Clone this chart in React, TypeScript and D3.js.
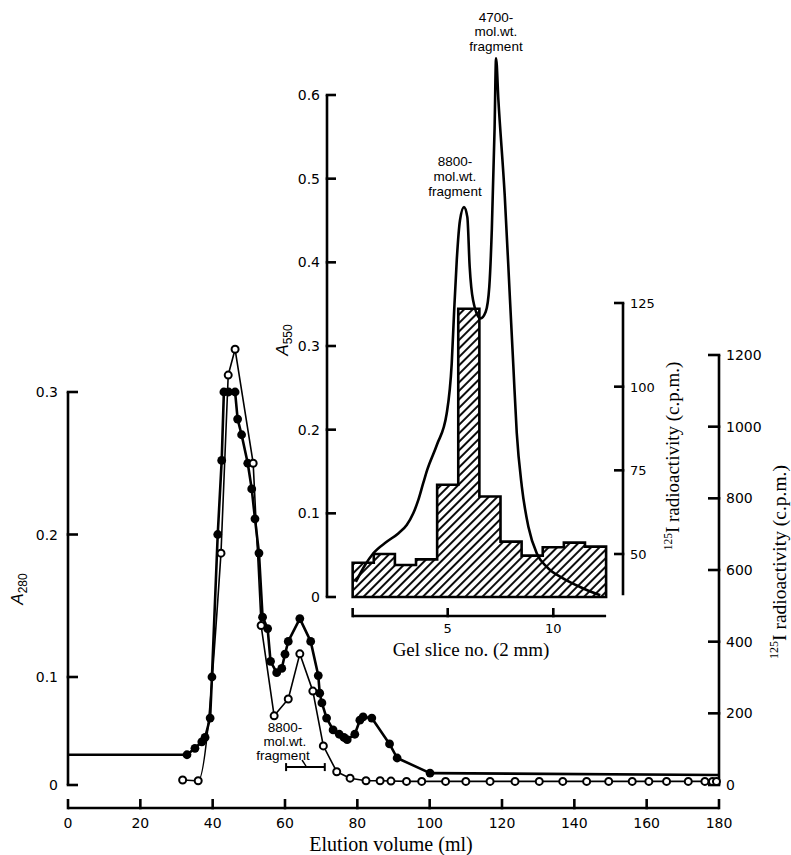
import React from 'react';
import * as d3 from 'd3';

// ---------- Main chart data ----------
const mainXTicks = [0, 20, 40, 60, 80, 100, 120, 140, 160, 180];
const a280Ticks = [0, 0.1, 0.2, 0.3];
const a280TickLabels = ['0', '0.1', '0.2', '0.3'];
const cpmTicks = [0, 200, 400, 600, 800, 1000, 1200];

// filled circles: A280
const filledMl = [32.9, 35.1, 37.0, 37.9, 39.3, 39.8, 41.4, 42.5, 43.1, 44.4, 46.2, 46.9, 48.0, 49.7, 50.8, 51.7, 52.8, 53.8, 55.2, 56.0, 57.7, 59.1, 60.0, 60.9, 64.1, 67.1, 69.2, 69.6, 70.2, 71.5, 73.3, 75.0, 76.3, 77.2, 79.3, 80.7, 81.6, 84.0, 88.9, 91.0, 100.1];
const filledA280 = [0.028, 0.034, 0.040, 0.044, 0.062, 0.100, 0.200, 0.252, 0.300, 0.300, 0.300, 0.281, 0.270, 0.250, 0.232, 0.211, 0.187, 0.142, 0.134, 0.111, 0.103, 0.106, 0.116, 0.125, 0.141, 0.125, 0.101, 0.085, 0.076, 0.062, 0.051, 0.047, 0.044, 0.042, 0.047, 0.060, 0.063, 0.062, 0.038, 0.025, 0.011];
const a280LeadIn = { ml: 0, v: 0.028 };
const a280Tail = { ml: 180, v: 0.0093 };

// open circles: 125I radioactivity
const openMl = [31.7, 36.0, 42.3, 44.3, 46.2, 51.2, 53.4, 57.0, 60.9, 64.1, 67.7, 70.6, 74.3, 78.0, 82.4, 86.3, 89.3, 93.6, 97.8, 104.4, 110.0, 116.7, 123.6, 130.3, 136.8, 143.4, 149.5, 156.0, 160.6, 165.5, 171.5, 176.1, 178.2, 179.3];
const openCpm = [14, 12, 647, 1144, 1216, 898, 445, 193, 240, 366, 262, 109, 37, 19, 12, 12, 11, 10, 10, 10, 10, 10, 10, 10, 10, 10, 10, 10, 10, 10, 10, 10, 10, 10];

const fragmentRangeMl = [60.3, 71];
const fragmentBracketCpm = 50;

// ---------- Inset data ----------
const a550Ticks = [0, 0.1, 0.2, 0.3, 0.4, 0.5, 0.6];
const a550TickLabels = ['0', '0.1', '0.2', '0.3', '0.4', '0.5', '0.6'];
const gelCpmTicks = [50, 75, 100, 125];
const gelSliceTicks = [5, 10];

const gelSlices = [1, 2, 3, 4, 5, 6, 7, 8, 9, 10, 11, 12];
const gelCpm = [47.4, 50, 46.7, 48.4, 70.7, 123.3, 67.2, 53.7, 49.5, 52, 53.4, 52.2];

const a550Slice = [0.65, 1.08, 1.47, 2.11, 2.66, 3.06, 3.37, 3.61, 3.84, 4.03, 4.49, 4.95, 5.19, 5.30, 5.43, 5.58, 5.77, 5.93, 6.04, 6.2, 6.55, 6.8, 6.97, 7.09, 7.22, 7.29, 7.40, 7.70, 7.95, 8.11, 8.27, 8.51, 8.82, 9.22, 9.69, 10.48, 11.27, 12.22];
const a550Val = [0.018, 0.038, 0.052, 0.066, 0.076, 0.086, 0.100, 0.116, 0.136, 0.152, 0.182, 0.219, 0.279, 0.339, 0.403, 0.450, 0.466, 0.454, 0.395, 0.355, 0.333, 0.341, 0.371, 0.440, 0.560, 0.644, 0.594, 0.480, 0.355, 0.275, 0.196, 0.132, 0.084, 0.052, 0.036, 0.022, 0.012, 0.002];

const TICKF = '"DejaVu Sans", sans-serif';
const ANNF = '"Liberation Sans", Arial, sans-serif';
const SERIF = '"Liberation Serif", "Times New Roman", serif';

export default function App() {
  const W = 791, H = 855;
  const x = d3.scaleLinear().domain([0, 180]).range([68, 719]);
  const yA = d3.scaleLinear().domain([0, 0.1, 0.3]).range([785, 677, 392]);
  const yC = d3.scaleLinear().domain([0, 1200]).range([785, 355]);

  const gx = d3.scaleLinear().domain([5, 10]).range([447.7, 553.3]);
  const gyA = d3.scaleLinear().domain([0, 0.6]).range([597, 95]);
  const gyC = d3.scaleLinear().domain([50, 125]).range([554, 303]);

  const filledPts: [number, number][] = filledMl.map((m, i) => [m, filledA280[i]]);
  const filledLinePts: [number, number][] = [[a280LeadIn.ml, a280LeadIn.v], ...filledPts, [a280Tail.ml, a280Tail.v]];
  const lineA = d3.line<[number, number]>().x(d => x(d[0])).y(d => yA(d[1]));

  const openPts: [number, number][] = openMl.map((m, i) => [m, openCpm[i]]);
  const lineCLin = d3.line<[number, number]>().x(d => x(d[0])).y(d => yC(d[1]));
  const lineCMono = d3.line<[number, number]>().x(d => x(d[0])).y(d => yC(d[1])).curve(d3.curveMonotoneX);

  const histPts: [number, number][] = [];
  gelSlices.forEach((s, i) => {
    histPts.push([s - 0.5, gelCpm[i]]);
    histPts.push([s + 0.5, gelCpm[i]]);
  });
  const histArea = d3.area<[number, number]>().x(d => gx(d[0])).y0(gyA(0)).y1(d => gyC(d[1]));

  const a550Pts: [number, number][] = a550Slice.map((s, i) => [s, a550Val[i]]);
  const a550Line = d3.line<[number, number]>().x(d => gx(d[0])).y(d => gyA(d[1])).curve(d3.curveMonotoneX);

  const axisW = 2.6;
  const mainXAxisY = 808;
  const insetXAxisY = 616;
  const insetLeftX = 327;
  const insetRightX = 623;

  return (
    <svg width={W} height={H} style={{ position: 'absolute', left: 0, top: 0, background: '#fff' }}>
      <defs>
        <pattern id="hatch" width={6} height={6} patternUnits="userSpaceOnUse" patternTransform="rotate(45)">
          <rect width={6} height={6} fill="#fff" />
          <line x1={1} y1={0} x2={1} y2={6} stroke="#000" strokeWidth={1.9} />
        </pattern>
      </defs>
      <rect width={W} height={H} fill="#fff" />

      {/* ---------- Main chart axes ---------- */}
      <g stroke="#000" strokeWidth={axisW} fill="none">
        <line x1={68} y1={yA(0.3)} x2={68} y2={yA(0)} />
        {a280Ticks.map(t => <line key={'la' + t} x1={66.7} y1={yA(t)} x2={78} y2={yA(t)} />)}
        <line x1={x(180)} y1={yC(1200)} x2={x(180)} y2={yC(0)} />
        {cpmTicks.map(t => <line key={'ra' + t} x1={708} y1={yC(t)} x2={x(180) + 1.3} y2={yC(t)} />)}
        <line x1={x(0)} y1={mainXAxisY} x2={x(180)} y2={mainXAxisY} />
        {mainXTicks.map(t => <line key={'xa' + t} x1={x(t)} y1={mainXAxisY + 1.3} x2={x(t)} y2={mainXAxisY - 9} />)}
      </g>
      <g fontFamily={TICKF} fontSize={14} fill="#000">
        {a280Ticks.map((t, i) => <text key={'lt' + t} x={58} y={yA(t) + 5} textAnchor="end">{a280TickLabels[i]}</text>)}
        {cpmTicks.map(t => <text key={'rt' + t} x={726} y={yC(t) + 5}>{t}</text>)}
        {mainXTicks.map(t => <text key={'xt' + t} x={x(t)} y={827.5} textAnchor="middle">{t}</text>)}
      </g>
      <text x={391} y={851} fontFamily={SERIF} fontSize={20} textAnchor="middle">Elution volume (ml)</text>
      <text transform="translate(23,589) rotate(-90)" fontFamily={ANNF} fontSize={17} textAnchor="middle">
        <tspan fontStyle="italic">A</tspan><tspan fontSize={12} dy={4}>280</tspan>
      </text>
      <text transform="translate(786,562) rotate(-90)" fontFamily={SERIF} fontSize={19.5} textAnchor="middle">
        <tspan fontSize={12} dy={-8}>125</tspan><tspan dy={8}>I radioactivity (c.p.m.)</tspan>
      </text>

      {/* ---------- Main chart data ---------- */}
      <path d={lineA(filledLinePts) || ''} fill="none" stroke="#000" strokeWidth={2.6} strokeLinejoin="round" />
      <path d={lineCMono(openPts.slice(0, 3)) || ''} fill="none" stroke="#000" strokeWidth={1.6} />
      <path d={lineCLin(openPts.slice(2)) || ''} fill="none" stroke="#000" strokeWidth={1.6} strokeLinejoin="round" />
      {filledPts.map((d, i) => <circle key={'f' + i} cx={x(d[0])} cy={yA(d[1])} r={4.4} fill="#000" />)}
      {openPts.map((d, i) => <circle key={'o' + i} cx={x(d[0])} cy={yC(d[1])} r={3.5} fill="#fff" stroke="#000" strokeWidth={2} />)}

      {/* fragment bracket */}
      <g stroke="#000" strokeWidth={2}>
        <line x1={x(fragmentRangeMl[0])} y1={yC(fragmentBracketCpm)} x2={x(fragmentRangeMl[1])} y2={yC(fragmentBracketCpm)} />
        <line x1={x(fragmentRangeMl[0])} y1={yC(fragmentBracketCpm) - 4} x2={x(fragmentRangeMl[0])} y2={yC(fragmentBracketCpm) + 4} />
        <line x1={x(fragmentRangeMl[1])} y1={yC(fragmentBracketCpm) - 4} x2={x(fragmentRangeMl[1])} y2={yC(fragmentBracketCpm) + 4} />
        <line x1={302} y1={760} x2={306} y2={yC(fragmentBracketCpm) - 1} strokeWidth={1.4} />
      </g>
      <g fontFamily={ANNF} fontSize={13.5} textAnchor="middle" fill="#000">
        <text x={285} y={732}>8800-</text>
        <text x={285} y={746}>mol.wt.</text>
        <text x={283} y={760}>fragment</text>
      </g>

      {/* ---------- Inset ---------- */}
      <path d={histArea(histPts) || ''} fill="url(#hatch)" stroke="#000" strokeWidth={2.6} strokeLinejoin="miter" />
      <path d={a550Line(a550Pts) || ''} fill="none" stroke="#000" strokeWidth={2.6} strokeLinejoin="round" />

      <g stroke="#000" strokeWidth={axisW} fill="none">
        <line x1={insetLeftX} y1={gyA(0.6)} x2={insetLeftX} y2={gyA(0)} />
        {a550Ticks.map(t => <line key={'ila' + t} x1={insetLeftX - 1.3} y1={gyA(t)} x2={insetLeftX + 9} y2={gyA(t)} />)}
        <line x1={insetRightX} y1={gyC(125)} x2={insetRightX} y2={gyC(37.7)} />
        {gelCpmTicks.map(t => <line key={'ira' + t} x1={insetRightX - 9} y1={gyC(t)} x2={insetRightX + 1.3} y2={gyC(t)} />)}
        <line x1={gx(0.5)} y1={insetXAxisY} x2={gx(12.5)} y2={insetXAxisY} />
        {[0.5, ...gelSliceTicks].map(t => <line key={'ixa' + t} x1={gx(t)} y1={insetXAxisY + 1.3} x2={gx(t)} y2={insetXAxisY - 8} />)}
      </g>
      <g fontFamily={TICKF} fontSize={14} fill="#000">
        {a550Ticks.map((t, i) => <text key={'ilt' + t} x={320} y={gyA(t) + 5} textAnchor="end">{a550TickLabels[i]}</text>)}
      </g>
      <g fontFamily={TICKF} fontSize={13} fill="#000">
        {gelCpmTicks.map(t => <text key={'irt' + t} x={630} y={gyC(t) + 5}>{t}</text>)}
        {gelSliceTicks.map(t => <text key={'ixt' + t} x={gx(t)} y={633} textAnchor="middle">{t}</text>)}
      </g>
      <text x={471} y={656} fontFamily={SERIF} fontSize={19} textAnchor="middle">Gel slice no. (2 mm)</text>
      <text transform="translate(288,340) rotate(-90)" fontFamily={ANNF} fontSize={17} textAnchor="middle">
        <tspan fontStyle="italic">A</tspan><tspan fontSize={12} dy={4}>550</tspan>
      </text>
      <text transform="translate(679,456) rotate(-90)" fontFamily={SERIF} fontSize={19} textAnchor="middle">
        <tspan fontSize={11.5} dy={-7}>125</tspan><tspan dy={7}>I radioactivity (c.p.m.)</tspan>
      </text>

      <g fontFamily={ANNF} fontSize={13.5} textAnchor="middle" fill="#000">
        <text x={496} y={22}>4700-</text>
        <text x={496} y={36}>mol.wt.</text>
        <text x={496} y={50.5}>fragment</text>
        <text x={455} y={166}>8800-</text>
        <text x={455} y={181}>mol.wt.</text>
        <text x={455} y={196}>fragment</text>
      </g>
    </svg>
  );
}
